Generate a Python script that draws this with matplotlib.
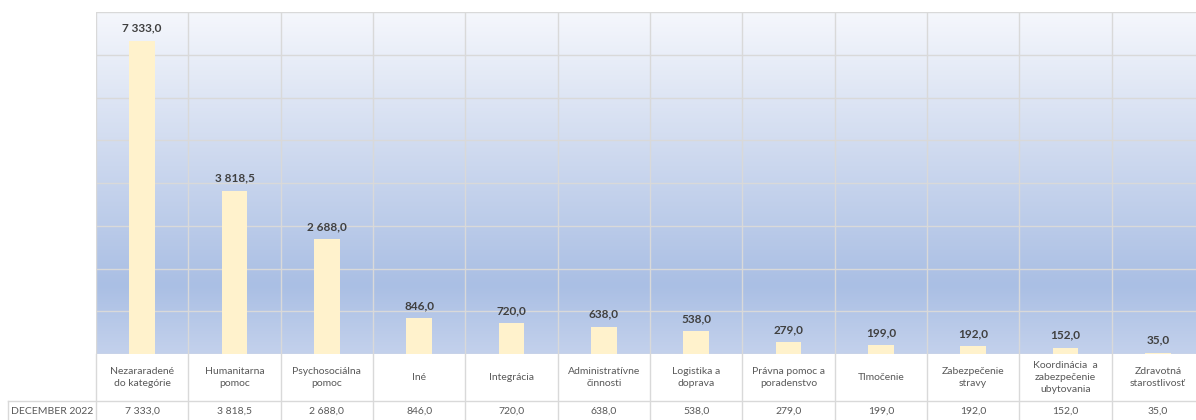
"""
Bar chart with data table: counts per category, December 2022.
Saves out.png (1196x420).
"""

import numpy as np
import matplotlib.pyplot as plt
from matplotlib.colors import LinearSegmentedColormap

categories = [
    "Nezararadené\ndo kategórie",
    "Humanitarna\npomoc",
    "Psychosociálna\npomoc",
    "Iné",
    "Integrácia",
    "Administratívne\nčinnosti",
    "Logistika a\ndoprava",
    "Právna pomoc a\nporadenstvo",
    "Tlmočenie",
    "Zabezpečenie\nstravy",
    "Koordinácia  a\nzabezpečenie\nubytovania",
    "Zdravotná\nstarostlivosť",
]
values = [7333.0, 3818.5, 2688.0, 846.0, 720.0, 638.0, 538.0, 279.0, 199.0, 192.0, 152.0, 35.0]
series_name = "DECEMBER 2022"
y_ticks = [0, 1000, 2000, 3000, 4000, 5000, 6000, 7000, 8000]

GRID = "#D9D9D9"
BAR = "#FFF2CC"
TEXT = "#595959"
FONT = ["Lato", "DejaVu Sans"]


def fmt(v: float) -> str:
    s = f"{v:,.1f}"
    return s.replace(",", " ").replace(".", ",")


def main() -> None:
    plt.rcParams["font.family"] = FONT
    W, H = 1196, 420
    fig = plt.figure(figsize=(W / 100, H / 100), dpi=100)
    fig.patch.set_facecolor("white")

    # plot area in pixels: x 96..1204 (cropped at right), y 12..354
    ax = fig.add_axes([96 / W, (H - 354) / H, 1108 / W, 342 / H])
    n = len(categories)
    x = np.arange(n)
    ax.set_xlim(-0.5, n - 0.5)
    ax.set_ylim(0, 8000)

    # gradient background
    cmap = LinearSegmentedColormap.from_list(
        "bg", [(0.0, "#C3D1EC"), (0.2, "#AABFE4"), (0.55, "#CBD7EE"), (1.0, "#F5F7FC")]
    )
    grad = np.linspace(0, 1, 256).reshape(-1, 1)
    ax.imshow(grad, cmap=cmap, aspect="auto", extent=[0, 1, 0, 1],
              transform=ax.transAxes, origin="lower", zorder=0)

    # gridlines
    for t in y_ticks:
        ax.axhline(t, color=GRID, lw=1, zorder=1)
    for b in np.arange(-0.5, n, 1.0):
        ax.axvline(b, color=GRID, lw=1, zorder=1)

    ax.bar(x, values, width=0.28, color=BAR, zorder=2)
    for xi, v in zip(x, values):
        ax.annotate(fmt(v), (xi, v), xytext=(0, 5), textcoords="offset points",
                    ha="center", va="bottom", fontsize=8.5, fontweight="bold",
                    color="#404040")

    for s in ax.spines.values():
        s.set_visible(False)
    ax.set_xticks([])
    ax.set_yticks([])

    # data table below the plot
    tr = ax.get_xaxis_transform()
    row1 = -47 / 342   # bottom of category row
    row2 = -70 / 342   # below figure edge
    left = -0.5 - 88 / 92.33
    for b in np.arange(0.5, n, 1.0):
        ax.plot([b, b], [0, row2], color=GRID, lw=1, transform=tr, clip_on=False)
    ax.plot([-0.5, -0.5], [0, row2], color=GRID, lw=1, transform=tr, clip_on=False)
    ax.plot([left, left], [row1, row2], color=GRID, lw=1, transform=tr, clip_on=False)
    ax.plot([left, n - 0.5], [row1, row1], color=GRID, lw=1, transform=tr, clip_on=False)

    for xi, c, v in zip(x, categories, values):
        ax.text(xi, row1 / 2, c, transform=tr, ha="center", va="center",
                fontsize=7.5, color=TEXT, linespacing=1.4, clip_on=False)
        ax.text(xi, -57 / 342, fmt(v), transform=tr, ha="center", va="center",
                fontsize=7.5, color=TEXT, clip_on=False)
    ax.text((left + -0.5) / 2, -57 / 342, series_name, transform=tr,
            ha="center", va="center", fontsize=7.5, color=TEXT, clip_on=False)

    fig.savefig("out.png", dpi=100)


if __name__ == "__main__":
    main()
